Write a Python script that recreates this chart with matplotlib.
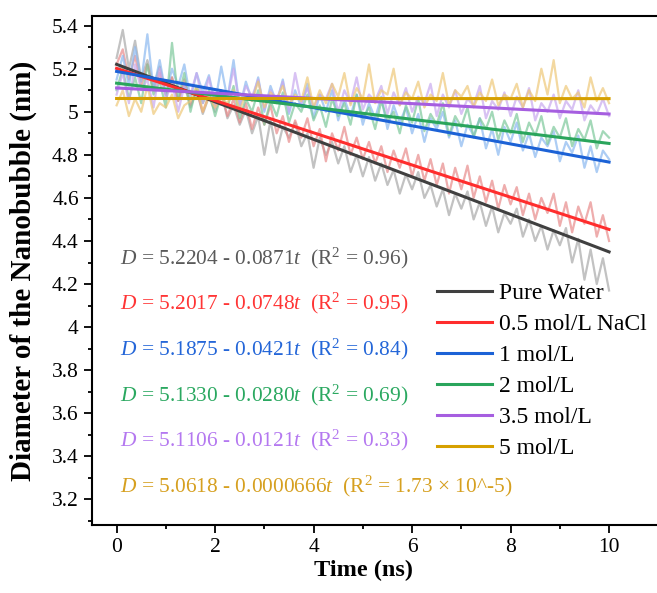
import numpy as np
import matplotlib
matplotlib.use("Agg")
import matplotlib.pyplot as plt
from matplotlib.ticker import MultipleLocator

plt.rcParams['font.family'] = ['Liberation Serif', 'DejaVu Serif']
plt.rcParams['mathtext.fontset'] = 'custom'
plt.rcParams['mathtext.rm'] = 'Liberation Serif'
plt.rcParams['mathtext.it'] = 'Liberation Serif:italic'

# Raw diameter traces (nm), evenly spaced over 0-10 ns
pure_water = [5.25, 5.38, 5.20, 5.33, 5.15, 5.24, 5.12, 5.21, 5.08, 5.16, 5.05, 5.13, 5.02, 5.10, 4.99, 5.07,
              5.00, 5.09, 4.97, 5.03, 4.94, 5.01, 4.90, 4.98, 4.80, 4.96, 4.81, 4.93, 4.88, 4.95, 4.84, 4.90,
              4.74, 4.88, 4.80, 4.86, 4.76, 4.84, 4.72, 4.80, 4.70, 4.79, 4.68, 4.76, 4.66, 4.73, 4.62, 4.71,
              4.64, 4.72, 4.60, 4.66, 4.56, 4.64, 4.52, 4.62, 4.55, 4.63, 4.50, 4.58, 4.47, 4.56, 4.44, 4.53,
              4.48, 4.55, 4.42, 4.50, 4.40, 4.47, 4.36, 4.45, 4.38, 4.46, 4.30, 4.41, 4.22, 4.36, 4.20, 4.32, 4.17]
nacl_05 = [5.22, 5.29, 5.15, 5.26, 5.12, 5.22, 5.10, 5.18, 5.08, 5.16, 5.05, 5.15, 5.03, 5.10, 5.00, 5.08,
           5.02, 5.10, 4.98, 5.06, 4.95, 5.04, 4.92, 5.02, 4.94, 5.03, 4.90, 4.98, 4.86, 4.96, 4.88, 4.97,
           4.84, 4.92, 4.77, 4.90, 4.82, 4.93, 4.80, 4.88, 4.78, 4.86, 4.76, 4.84, 4.72, 4.82, 4.74, 4.83,
           4.70, 4.80, 4.68, 4.78, 4.66, 4.76, 4.62, 4.74, 4.64, 4.75, 4.60, 4.70, 4.58, 4.68, 4.55, 4.66,
           4.57, 4.65, 4.52, 4.62, 4.50, 4.60, 4.53, 4.62, 4.47, 4.58, 4.44, 4.56, 4.48, 4.58, 4.42, 4.52, 4.40]
nacl_1 = [5.15, 5.26, 5.12, 5.30, 5.14, 5.36, 5.10, 5.24, 5.08, 5.20, 5.12, 5.22, 5.06, 5.18, 5.09, 5.17,
          5.04, 5.21, 5.06, 5.24, 5.02, 5.14, 5.05, 5.16, 5.00, 5.12, 5.04, 5.15, 4.99, 5.10, 5.02, 5.13,
          4.97, 5.08, 5.00, 5.10, 4.96, 5.06, 4.98, 5.08, 4.94, 5.04, 4.97, 5.07, 4.92, 5.03, 4.95, 5.02,
          4.90, 4.99, 4.86, 4.97, 4.92, 5.00, 4.88, 4.96, 4.84, 4.94, 4.89, 4.97, 4.83, 4.92, 4.80, 4.93,
          4.86, 4.95, 4.82, 4.90, 4.79, 4.88, 4.84, 4.91, 4.77, 4.86, 4.81, 4.89, 4.74, 4.84, 4.72, 4.82, 4.78]
nacl_2 = [5.10, 5.20, 5.06, 5.16, 5.04, 5.22, 5.08, 5.14, 5.02, 5.32, 5.06, 5.18, 5.00, 5.12, 5.04, 5.10,
          4.98, 5.08, 5.02, 5.12, 4.97, 5.06, 5.00, 5.10, 4.94, 5.05, 4.98, 5.09, 4.95, 5.04, 5.00, 5.08,
          4.96, 5.03, 4.93, 5.06, 4.98, 5.04, 4.94, 5.08, 4.97, 5.02, 4.92, 5.05, 4.96, 5.00, 4.90, 5.03,
          4.95, 5.06, 4.91, 4.99, 4.94, 5.04, 4.89, 4.98, 4.93, 5.02, 4.88, 4.97, 4.92, 5.00, 4.87, 4.96,
          4.90, 4.99, 4.86, 4.95, 4.89, 4.98, 4.85, 4.93, 4.88, 4.97, 4.84, 4.92, 4.87, 4.96, 4.83, 4.91, 4.88]
nacl_35 = [5.08, 5.18, 5.04, 5.22, 5.10, 5.15, 5.02, 5.20, 5.06, 5.14, 5.00, 5.12, 5.08, 5.18, 5.04, 5.16,
           5.02, 5.10, 5.06, 5.20, 5.03, 5.12, 5.07, 5.15, 5.01, 5.10, 5.05, 5.14, 5.00, 5.18, 5.04, 5.11,
           5.02, 5.08, 5.06, 5.13, 5.00, 5.10, 5.04, 5.16, 5.01, 5.08, 5.05, 5.12, 4.99, 5.09, 5.03, 5.11,
           5.00, 5.07, 5.04, 5.13, 4.98, 5.08, 5.02, 5.10, 4.99, 5.06, 5.03, 5.12, 4.97, 5.05, 5.01, 5.09,
           4.98, 5.07, 5.02, 5.11, 4.96, 5.04, 5.00, 5.08, 4.97, 5.05, 5.01, 5.10, 4.96, 5.03, 4.99, 5.06, 4.98]
nacl_5 = [5.03, 5.10, 4.98, 5.06, 5.00, 5.12, 4.99, 5.04, 5.02, 5.08, 4.97, 5.03, 5.05, 5.12, 5.00, 5.07,
          5.02, 5.06, 5.04, 5.10, 5.01, 5.08, 5.05, 5.14, 5.02, 5.09, 5.06, 5.12, 5.03, 5.08, 5.05, 5.16,
          5.02, 5.10, 5.04, 5.13, 5.07, 5.18, 5.03, 5.11, 5.06, 5.22, 5.04, 5.10, 5.08, 5.20, 5.03, 5.09,
          5.06, 5.14, 5.02, 5.08, 5.05, 5.18, 5.03, 5.10, 5.07, 5.12, 5.02, 5.09, 5.05, 5.15, 5.03, 5.08,
          5.06, 5.13, 5.02, 5.10, 5.05, 5.20, 5.08, 5.24, 5.04, 5.12, 5.06, 5.09, 5.02, 5.16, 5.05, 5.11, 5.04]

labels = ["Pure Water", "0.5 mol/L NaCl", "1 mol/L", "2 mol/L", "3.5 mol/L", "5 mol/L"]
traces = [pure_water, nacl_05, nacl_1, nacl_2, nacl_35, nacl_5]

# linear fits D = a - b t
intercepts = [5.2204, 5.2017, 5.1875, 5.1330, 5.1106, 5.0618]
slopes = [0.0871, 0.0748, 0.0421, 0.0280, 0.0121, 0.0000666]
slope_txt = ["0.0871", "0.0748", "0.0421", "0.0280", "0.0121", "0.0000666"]
r2_txt = ["0.96", "0.95", "0.84", "0.69", "0.33", "1.73 × 10^-5"]
t_fit = [0, 10]

line_colors = ["#404040", "#ff2d2d", "#1c62d6", "#2aa55c", "#a65ee0", "#d6a000"]
trace_colors = ["#a8a8a8", "#e88a8a", "#8ab8f0", "#7cc89a", "#c8a8ee", "#eec878"]
text_colors = ["#5a5a5a", "#ff3535", "#2466d8", "#2aa860", "#b478f0", "#d6a020"]

fig = plt.figure(figsize=(6.57, 5.93), dpi=100)
ax = fig.add_axes([0.140, 0.1147, 0.862, 0.858])

for tr, c in zip(traces, trace_colors):
    t = np.linspace(0, 10, len(tr))
    ax.plot(t, tr, color=c, lw=1.6, alpha=0.7)

handles = []
for a, b, c, lab in zip(intercepts, slopes, line_colors, labels):
    y = [a - b * tt for tt in t_fit]
    h, = ax.plot(t_fit, y, color=c, lw=2.2, label=lab)
    handles.append(h)

text_y = [4.32, 4.108, 3.897, 3.685, 3.474, 3.262]
for a, s, r, c, yy in zip(intercepts, slope_txt, r2_txt, text_colors, text_y):
    ax.text(0.06, yy, r"$\it{D}$ = %.4f - %s$\it{t}$  (R$^2$ = %s)" % (a, s, r),
            color=c, fontsize=15.4, ha='left', va='center')

leg = ax.legend(handles=handles, loc='upper left', bbox_to_anchor=(0.588, 0.500),
                frameon=False, fontsize=17, handlelength=2.35, handletextpad=0.3,
                labelspacing=0.40, borderpad=0)

ax.set_xlim(-0.5, 11)
ax.set_ylim(3.081, 5.444)
ax.xaxis.set_major_locator(MultipleLocator(2))
ax.xaxis.set_minor_locator(MultipleLocator(1))
ax.set_yticks(np.arange(3.2, 5.41, 0.2))
ax.yaxis.set_minor_locator(MultipleLocator(0.1))
ax.yaxis.set_major_formatter(plt.FuncFormatter(lambda v, p: "%g" % round(v, 1)))
ax.tick_params(which='both', direction='out', top=False, right=False, width=1.3, labelsize=15.5)
ax.tick_params(which='major', length=6)
ax.tick_params(which='minor', length=3)
for sp in ax.spines.values():
    sp.set_linewidth(1.5)
ax.spines['right'].set_visible(False)

ax.set_xlabel("Time (ns)", fontsize=17.5, fontweight='bold')
ax.xaxis.set_label_coords(0.48, -0.068)
ax.set_ylabel("Diameter of the Nanobubble (nm)", fontsize=21, fontweight='bold')
ax.yaxis.set_label_coords(-0.097, 0.5)

fig.savefig("out.png", dpi=100)
